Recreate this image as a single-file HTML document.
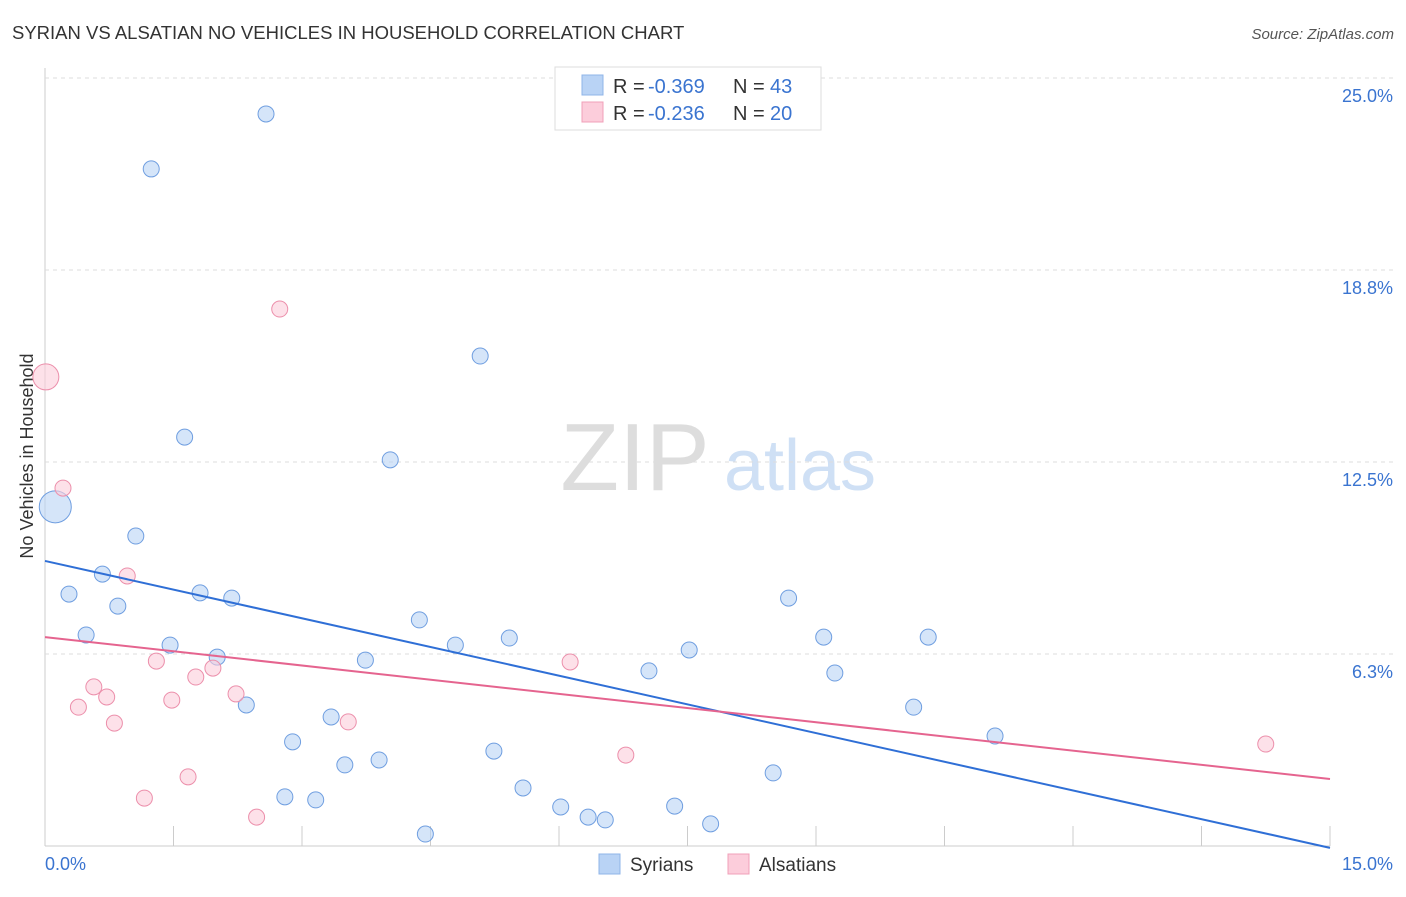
<!DOCTYPE html>
<html><head><meta charset="utf-8"><style>
body{margin:0;background:#fff;font-family:"Liberation Sans",sans-serif;}
svg text{font-family:"Liberation Sans",sans-serif;}
</style></head><body>
<svg id="c" width="1406" height="892">
<text x="12" y="39" font-size="18.5" fill="#333">SYRIAN VS ALSATIAN NO VEHICLES IN HOUSEHOLD CORRELATION CHART</text>
<text x="1394" y="39" font-size="15" fill="#555" font-style="italic" text-anchor="end">Source: ZipAtlas.com</text>
<text x="33" y="456" font-size="18" fill="#333" transform="rotate(-90 33 456)" text-anchor="middle">No Vehicles in Household</text>
<g><text x="635" y="490" font-size="96" font-family="Liberation Serif" fill="#ddd" text-anchor="middle">ZIP</text><text x="800" y="490" font-size="72" fill="#cfe0f5" text-anchor="middle">atlas</text></g>
<g id="grid"></g><g id="marks"></g>
<g>
<rect x="555" y="67" width="266" height="63" fill="#fff" stroke="#ddd"/>
<rect x="582" y="75" width="21" height="20" fill="#b9d3f5" stroke="#8fb4e8"/>
<text x="613" y="93" font-size="20" fill="#333">R =</text><text x="648" y="93" font-size="20" fill="#3a74d0">-0.369</text>
<text x="733" y="93" font-size="20" fill="#333">N =</text><text x="770" y="93" font-size="20" fill="#3a74d0">43</text>
<rect x="582" y="102" width="21" height="20" fill="#fccddb" stroke="#f0a0b8"/>
<text x="613" y="120" font-size="20" fill="#333">R =</text><text x="648" y="120" font-size="20" fill="#3a74d0">-0.236</text>
<text x="733" y="120" font-size="20" fill="#333">N =</text><text x="770" y="120" font-size="20" fill="#3a74d0">20</text>
</g>
<g>
<rect x="599" y="854" width="21" height="20" fill="#b9d3f5" stroke="#8fb4e8"/><text x="630" y="871" font-size="19" fill="#333">Syrians</text>
<rect x="728" y="854" width="21" height="20" fill="#fccddb" stroke="#f0a0b8"/><text x="759" y="871" font-size="19" fill="#333">Alsatians</text>
</g>
</svg>
<script>
const yTicks=[6.3,12.5,18.8,25.0];
const yTickVals=[6.25,12.5,18.75,25];
const xTickLabels=["0.0%","15.0%"];
const syrX=[2.58,1.24,5.08,1.63,4.03,0.12,1.06,0.67,0.28,0.85,1.81,2.18,4.37,0.48,1.46,4.79,5.42,2.01,3.74,7.52,8.68,9.09,10.31,7.05,9.22,2.35,10.14,3.34,2.89,5.24,11.09,3.50,3.90,8.50,5.58,2.80,3.16,6.02,7.35,6.34,6.54,7.77,4.44];
const syrY=[23.83,22.04,15.95,13.31,12.57,11.04,10.09,8.85,8.20,7.81,8.24,8.07,7.36,6.87,6.54,6.54,6.77,6.15,6.05,6.38,8.07,6.80,6.80,5.70,5.63,4.59,4.52,4.20,3.39,3.09,3.58,2.64,2.80,2.38,1.89,1.60,1.50,1.27,1.30,0.94,0.85,0.72,0.39];
const alsX=[2.74,0.01,0.21,0.96,1.30,1.96,6.13,0.57,1.76,0.72,2.23,0.39,1.48,0.81,3.54,6.78,1.67,1.16,2.47,14.25];
const alsY=[17.48,15.27,11.65,8.79,6.02,5.79,5.99,5.18,5.50,4.85,4.95,4.52,4.75,4.00,4.04,2.96,2.25,1.56,0.94,3.32];
const syrLine=[9.28,-0.06];
const alsLine=[6.80,2.18];
const X=v=>45+v/15*1285, Y=v=>846-v/6.25*192;
const NS="http://www.w3.org/2000/svg";
const g=document.getElementById('grid'), m=document.getElementById('marks');
function mk(p,tag,a){const e=document.createElementNS(NS,tag);for(const k in a)e.setAttribute(k,a[k]);p.appendChild(e);return e;}
let ax=mk(g,'line',{x1:45,y1:68,x2:45,y2:846,stroke:'#ccc'});


let bx=mk(g,'line',{x1:45,y1:846,x2:1330,y2:846,stroke:'#ccc'});


for(let i=1;i<=10;i++){const t=mk(g,'line',{x1:X(i*1.5),x2:X(i*1.5),y1:826,y2:846,stroke:'#ccc'});

}
yTicks.forEach((t,i)=>{const y=Y(yTickVals[i]);
const l=mk(g,'line',{x1:45,x2:1395,y1:y,y2:y,stroke:'#ddd','stroke-dasharray':'4 4'});


const tx=mk(g,'text',{x:1393,y:y+24,'font-size':18,fill:'#3a74d0','text-anchor':'end'});tx.textContent=t.toFixed(1)+'%';

});
xTickLabels.forEach((t,i)=>{const tx=mk(g,'text',{x:i?1393:45,y:870,'font-size':18,fill:'#3a74d0','text-anchor':i?'end':'start'});tx.textContent=t;

});
function pts(xs,ys,fill,stroke,name,bigIdx,bigR){xs.forEach((x,i)=>{const c=mk(m,'circle',{cx:X(x),cy:Y(ys[i]),r:i===bigIdx?bigR:8,fill:fill,stroke:stroke,'stroke-width':1,'fill-opacity':0.6});

});}
pts(syrX,syrY,'#b9d3f5','#6f9ee0','syrian-point',5,16);
pts(alsX,alsY,'#fccddb','#ec8fab','alsatian-point',1,13);
const l1=mk(m,'line',{x1:X(0),y1:Y(syrLine[0]),x2:X(15),y2:Y(syrLine[1]),stroke:'#2f6fd6','stroke-width':2});


const l2=mk(m,'line',{x1:X(0),y1:Y(alsLine[0]),x2:X(15),y2:Y(alsLine[1]),stroke:'#e5648f','stroke-width':2});


</script>
</body></html>
